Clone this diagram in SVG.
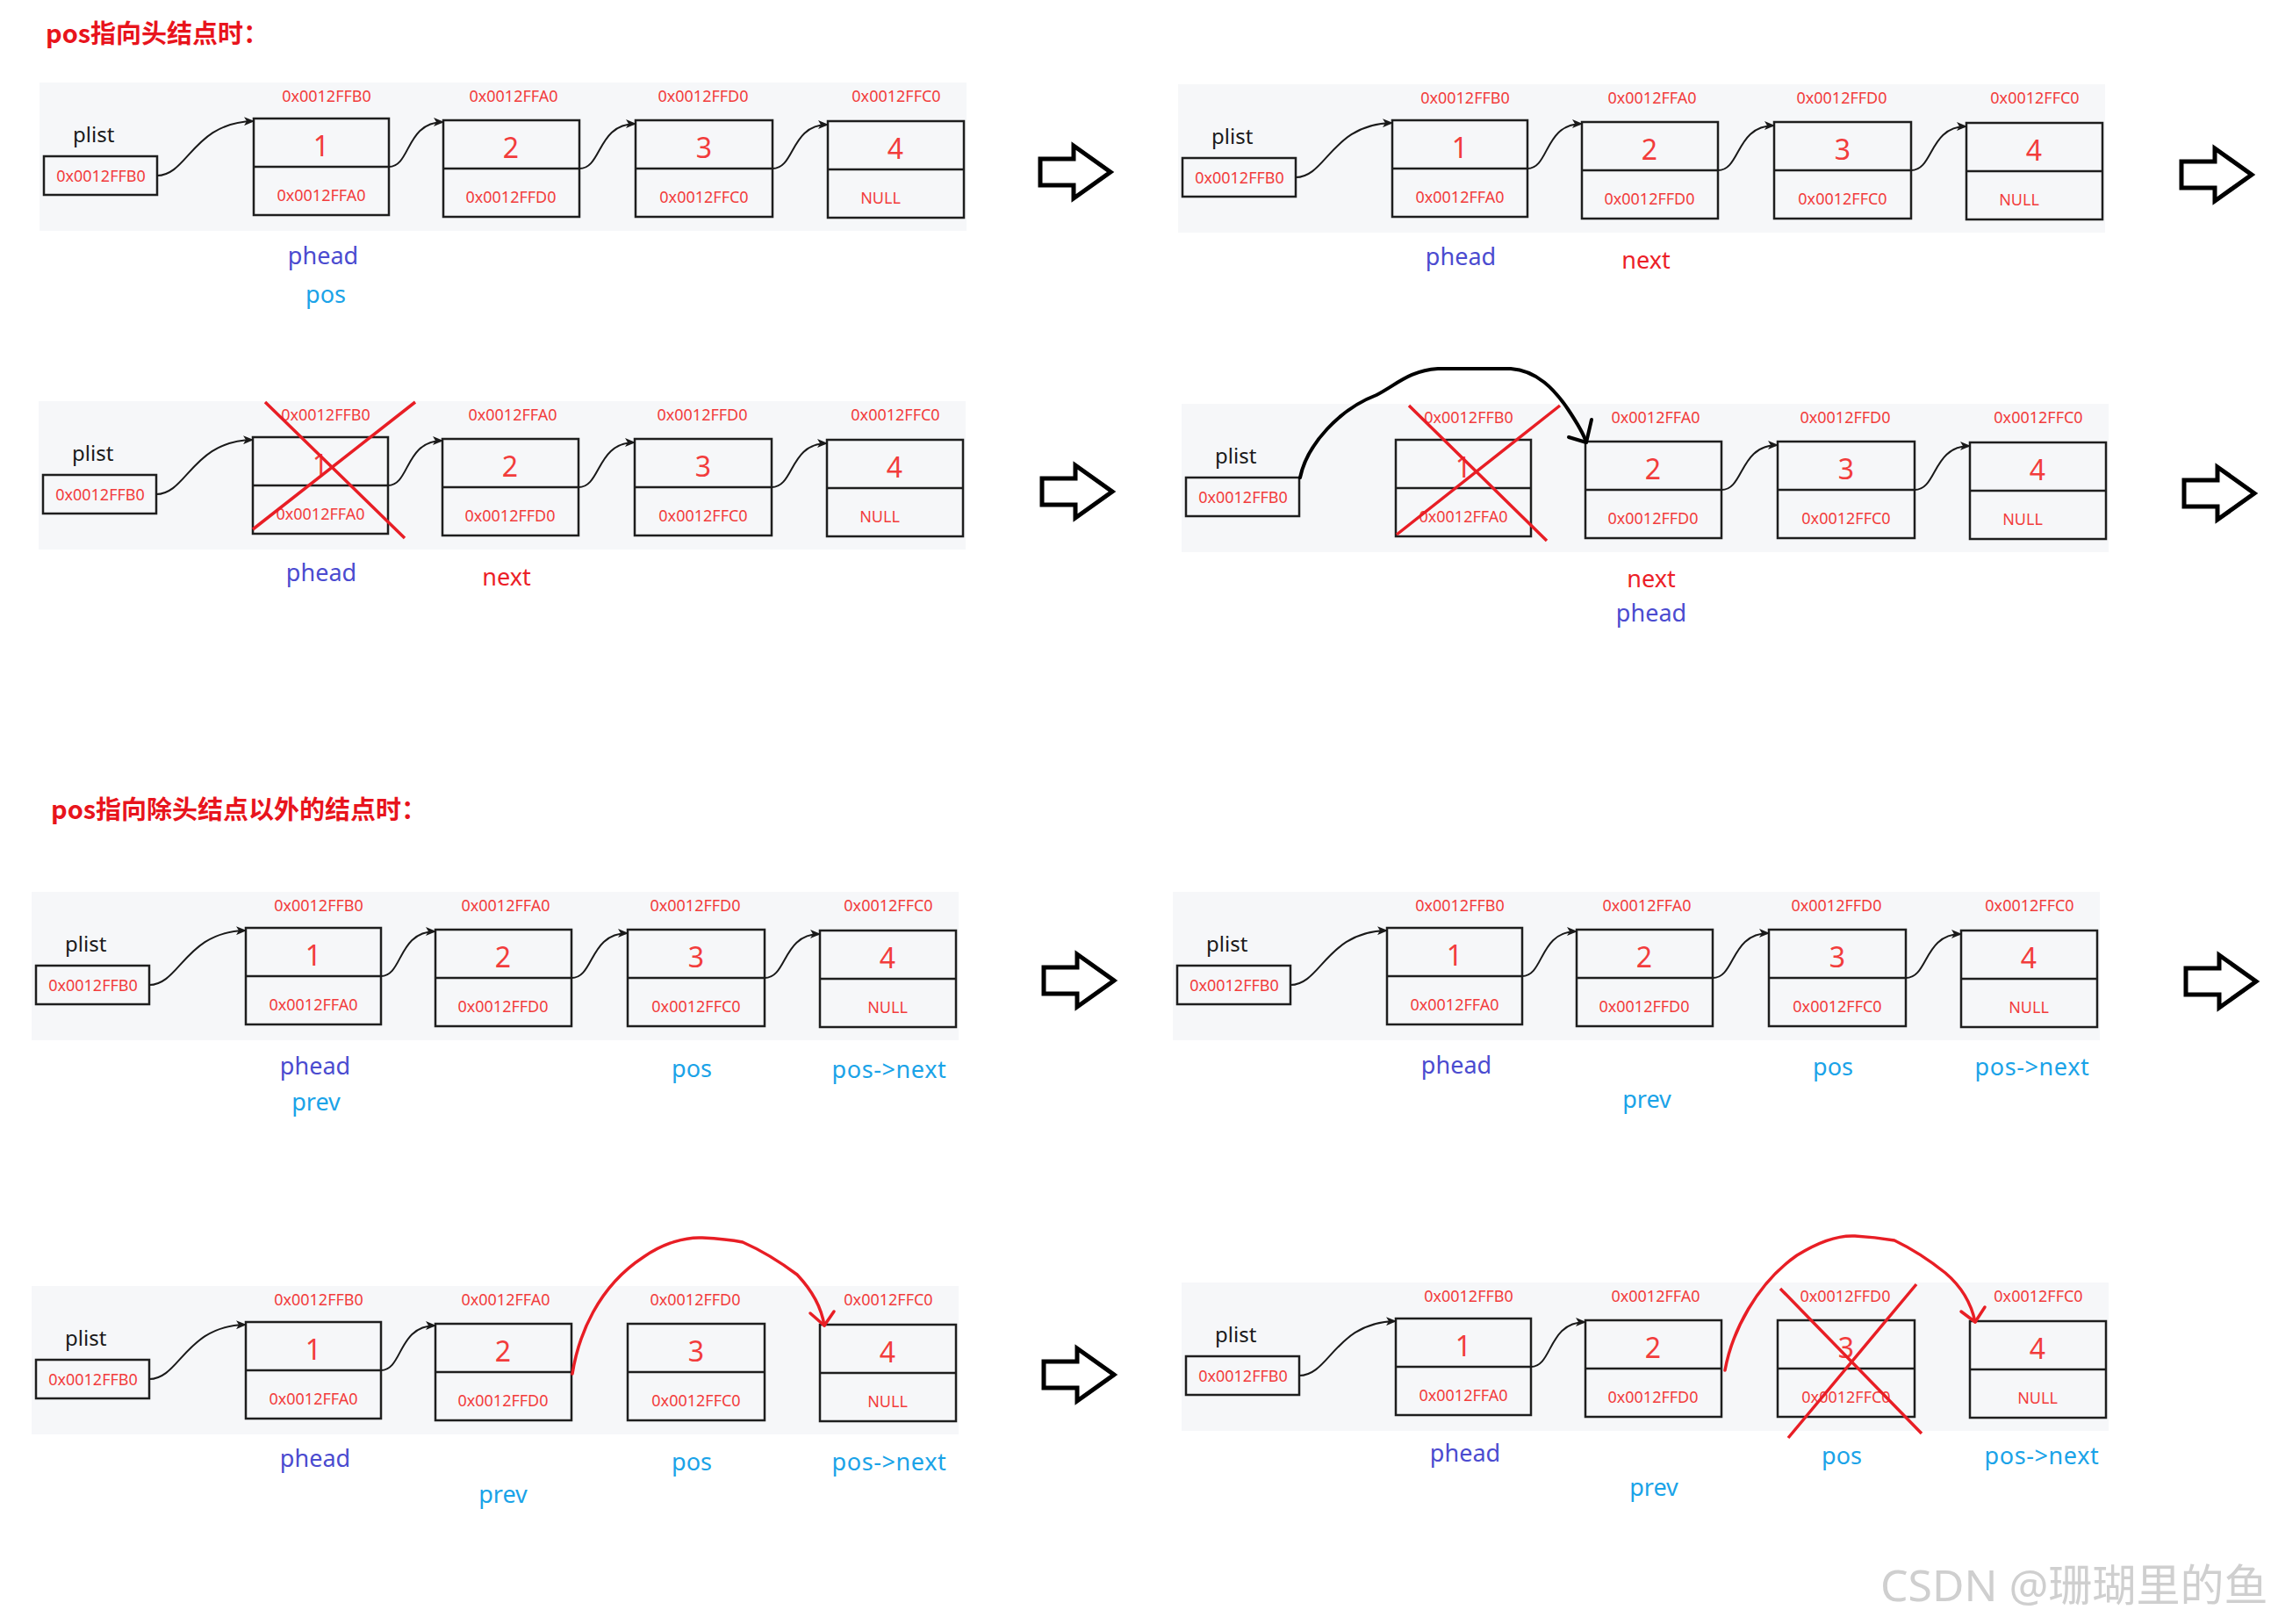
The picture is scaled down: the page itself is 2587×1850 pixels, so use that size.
<svg xmlns="http://www.w3.org/2000/svg" width="2587" height="1850" viewBox="0 0 2587 1850">
<style>
.bg{fill:#f6f7f9}
.box{fill:none;stroke:#1e1e1e;stroke-width:2.5}
.t{font-family:"Noto Sans","Noto Sans CJK SC",sans-serif}
.addr{font-size:18px;fill:#f23c3c;text-anchor:middle}
.num{font-size:32px;fill:#f23c3c;text-anchor:middle}
.plist{font-size:24px;fill:#1a1a1a}
.lbl{font-size:27px;text-anchor:middle}
.pn{letter-spacing:0.6px}
.ph{fill:#4b4bd0}
.sky{fill:#1aa3e8}
.rd{fill:#ec2027}
.conn{fill:none;stroke:#1a1a1a;stroke-width:2;marker-end:url(#ah)}
.cross{stroke:#e81e25;stroke-width:3.5;fill:none}
.hand{stroke:#000;stroke-width:4;fill:none;stroke-linecap:round;stroke-linejoin:round}
.rarc{stroke:#e81e25;stroke-width:3.5;fill:none;stroke-linecap:round;stroke-linejoin:round}
.big{fill:#fff;stroke:#000;stroke-width:5;stroke-linejoin:miter}
.title{font-family:"Noto Sans CJK SC","Noto Sans",sans-serif;font-size:29px;font-weight:700;fill:#e8141c}
.wm{font-family:"Noto Sans","Noto Sans CJK SC",sans-serif;font-size:50px;fill:#cfcfcf}
</style>
<defs>
<marker id="ah" markerWidth="12" markerHeight="10" refX="11" refY="5" orient="auto" markerUnits="userSpaceOnUse"><path d="M0,0 L12,5 L0,10 L3,5 z" fill="#1a1a1a"/></marker>
<path id="bigarrow" d="M0,-15 H38 V-30 L80,0 L38,30 V15 H0 Z"/>
</defs>
<rect width="2587" height="1850" fill="#fff"/>

<text class="title" x="52" y="49">pos指向头结点时：</text>
<text class="title" x="58" y="933">pos指向除头结点以外的结点时：</text>

<!-- Panel 1 -->
<g id="panel1" transform="translate(0,0)">
<rect class="bg" x="45" y="94" width="1056" height="169"/>
<g id="p1-plist"><text class="t plist" x="83" y="162">plist</text><rect class="box" x="50" y="178" width="129" height="44"/><text class="t addr" x="115" y="207">0x0012FFB0</text></g>
<g id="p1-n1"><text class="t addr" x="372" y="116">0x0012FFB0</text><rect class="box" x="289" y="135" width="154" height="110"/><line class="box" x1="289" y1="190" x2="443" y2="190"/><text class="t num" x="366" y="178">1</text><text class="t addr" x="366" y="229">0x0012FFA0</text></g>
<g id="p1-n2"><text class="t addr" x="585" y="116">0x0012FFA0</text><rect class="box" x="505" y="137" width="155" height="110"/><line class="box" x1="505" y1="192" x2="660" y2="192"/><text class="t num" x="582" y="180">2</text><text class="t addr" x="582" y="231">0x0012FFD0</text></g>
<g id="p1-n3"><text class="t addr" x="801" y="116">0x0012FFD0</text><rect class="box" x="724" y="137" width="156" height="110"/><line class="box" x1="724" y1="192" x2="880" y2="192"/><text class="t num" x="802" y="180">3</text><text class="t addr" x="802" y="231">0x0012FFC0</text></g>
<g id="p1-n4"><text class="t addr" x="1021" y="116">0x0012FFC0</text><rect class="box" x="943" y="138" width="155" height="110"/><line class="box" x1="943" y1="193" x2="1098" y2="193"/><text class="t num" x="1020" y="181">4</text><text class="t addr" x="1003" y="232">NULL</text></g>
<g id="p1-connectors"><path class="conn" d="M179,200 C214,200 220,139 289,138"/><path class="conn" d="M443,190 C468,190 462,139 505,139"/><path class="conn" d="M660,192 C686,192 680,141 724,141"/><path class="conn" d="M880,192 C906,192 900,142 943,142"/></g>
<text class="t lbl ph" x="368" y="301">phead</text>
<text class="t lbl sky" x="371" y="345">pos</text>
</g>

<!-- Panel 2 -->
<g id="panel2" transform="translate(1297,2)">
<rect class="bg" x="45" y="94" width="1056" height="169"/>
<g id="p2-plist"><text class="t plist" x="83" y="162">plist</text><rect class="box" x="50" y="178" width="129" height="44"/><text class="t addr" x="115" y="207">0x0012FFB0</text></g>
<g id="p2-n1"><text class="t addr" x="372" y="116">0x0012FFB0</text><rect class="box" x="289" y="135" width="154" height="110"/><line class="box" x1="289" y1="190" x2="443" y2="190"/><text class="t num" x="366" y="178">1</text><text class="t addr" x="366" y="229">0x0012FFA0</text></g>
<g id="p2-n2"><text class="t addr" x="585" y="116">0x0012FFA0</text><rect class="box" x="505" y="137" width="155" height="110"/><line class="box" x1="505" y1="192" x2="660" y2="192"/><text class="t num" x="582" y="180">2</text><text class="t addr" x="582" y="231">0x0012FFD0</text></g>
<g id="p2-n3"><text class="t addr" x="801" y="116">0x0012FFD0</text><rect class="box" x="724" y="137" width="156" height="110"/><line class="box" x1="724" y1="192" x2="880" y2="192"/><text class="t num" x="802" y="180">3</text><text class="t addr" x="802" y="231">0x0012FFC0</text></g>
<g id="p2-n4"><text class="t addr" x="1021" y="116">0x0012FFC0</text><rect class="box" x="943" y="138" width="155" height="110"/><line class="box" x1="943" y1="193" x2="1098" y2="193"/><text class="t num" x="1020" y="181">4</text><text class="t addr" x="1003" y="232">NULL</text></g>
<g id="p2-connectors"><path class="conn" d="M179,200 C214,200 220,139 289,138"/><path class="conn" d="M443,190 C468,190 462,139 505,139"/><path class="conn" d="M660,192 C686,192 680,141 724,141"/><path class="conn" d="M880,192 C906,192 900,142 943,142"/></g>
<text class="t lbl ph" x="367" y="300">phead</text>
<text class="t lbl rd" x="578" y="304">next</text>
</g>

<!-- Panel 3 -->
<g id="panel3" transform="translate(-1,363)">
<rect class="bg" x="45" y="94" width="1056" height="169"/>
<g id="p3-plist"><text class="t plist" x="83" y="162">plist</text><rect class="box" x="50" y="178" width="129" height="44"/><text class="t addr" x="115" y="207">0x0012FFB0</text></g>
<g id="p3-n1"><text class="t addr" x="372" y="116">0x0012FFB0</text><rect class="box" x="289" y="135" width="154" height="110"/><line class="box" x1="289" y1="190" x2="443" y2="190"/><text class="t num" x="366" y="178">1</text><text class="t addr" x="366" y="229">0x0012FFA0</text><path class="cross" d="M303,95 L462,250 M474,95 L289,240"/></g>
<g id="p3-n2"><text class="t addr" x="585" y="116">0x0012FFA0</text><rect class="box" x="505" y="137" width="155" height="110"/><line class="box" x1="505" y1="192" x2="660" y2="192"/><text class="t num" x="582" y="180">2</text><text class="t addr" x="582" y="231">0x0012FFD0</text></g>
<g id="p3-n3"><text class="t addr" x="801" y="116">0x0012FFD0</text><rect class="box" x="724" y="137" width="156" height="110"/><line class="box" x1="724" y1="192" x2="880" y2="192"/><text class="t num" x="802" y="180">3</text><text class="t addr" x="802" y="231">0x0012FFC0</text></g>
<g id="p3-n4"><text class="t addr" x="1021" y="116">0x0012FFC0</text><rect class="box" x="943" y="138" width="155" height="110"/><line class="box" x1="943" y1="193" x2="1098" y2="193"/><text class="t num" x="1020" y="181">4</text><text class="t addr" x="1003" y="232">NULL</text></g>
<g id="p3-connectors"><path class="conn" d="M179,200 C214,200 220,139 289,138"/><path class="conn" d="M443,190 C468,190 462,139 505,139"/><path class="conn" d="M660,192 C686,192 680,141 724,141"/><path class="conn" d="M880,192 C906,192 900,142 943,142"/></g>
<text class="t lbl ph" x="367" y="299">phead</text>
<text class="t lbl rd" x="578" y="304">next</text>
</g>

<!-- Panel 4 -->
<g id="panel4" transform="translate(1301,366)">
<rect class="bg" x="45" y="94" width="1056" height="169"/>
<g id="p4-plist"><text class="t plist" x="83" y="162">plist</text><rect class="box" x="50" y="178" width="129" height="44"/><text class="t addr" x="115" y="207">0x0012FFB0</text></g>
<g id="p4-n1"><text class="t addr" x="372" y="116">0x0012FFB0</text><rect class="box" x="289" y="135" width="154" height="110"/><line class="box" x1="289" y1="190" x2="443" y2="190"/><text class="t num" x="366" y="178">1</text><text class="t addr" x="366" y="229">0x0012FFA0</text><path class="cross" d="M304,96 L461,250 M476,96 L290,243"/></g>
<g id="p4-n2"><text class="t addr" x="585" y="116">0x0012FFA0</text><rect class="box" x="505" y="137" width="155" height="110"/><line class="box" x1="505" y1="192" x2="660" y2="192"/><text class="t num" x="582" y="180">2</text><text class="t addr" x="582" y="231">0x0012FFD0</text></g>
<g id="p4-n3"><text class="t addr" x="801" y="116">0x0012FFD0</text><rect class="box" x="724" y="137" width="156" height="110"/><line class="box" x1="724" y1="192" x2="880" y2="192"/><text class="t num" x="802" y="180">3</text><text class="t addr" x="802" y="231">0x0012FFC0</text></g>
<g id="p4-n4"><text class="t addr" x="1021" y="116">0x0012FFC0</text><rect class="box" x="943" y="138" width="155" height="110"/><line class="box" x1="943" y1="193" x2="1098" y2="193"/><text class="t num" x="1020" y="181">4</text><text class="t addr" x="1003" y="232">NULL</text></g>
<g id="p4-connectors">
<path class="hand" d="M180,178 C188,140 225,100 267,84 C290,72 305,56 337,54 L420,54 C450,56 470,78 485,100 C497,118 503,128 506,138"/>
<path class="hand" d="M486,132 L506,138 L512,112"/>
<path class="conn" d="M660,192 C686,192 680,141 724,141"/><path class="conn" d="M880,192 C906,192 900,142 943,142"/></g>
<text class="t lbl rd" x="580" y="303">next</text>
<text class="t lbl ph" x="580" y="342">phead</text>
</g>

<!-- Panel 5 -->
<g id="panel5" transform="translate(-9,922)">
<rect class="bg" x="45" y="94" width="1056" height="169"/>
<g id="p5-plist"><text class="t plist" x="83" y="162">plist</text><rect class="box" x="50" y="178" width="129" height="44"/><text class="t addr" x="115" y="207">0x0012FFB0</text></g>
<g id="p5-n1"><text class="t addr" x="372" y="116">0x0012FFB0</text><rect class="box" x="289" y="135" width="154" height="110"/><line class="box" x1="289" y1="190" x2="443" y2="190"/><text class="t num" x="366" y="178">1</text><text class="t addr" x="366" y="229">0x0012FFA0</text></g>
<g id="p5-n2"><text class="t addr" x="585" y="116">0x0012FFA0</text><rect class="box" x="505" y="137" width="155" height="110"/><line class="box" x1="505" y1="192" x2="660" y2="192"/><text class="t num" x="582" y="180">2</text><text class="t addr" x="582" y="231">0x0012FFD0</text></g>
<g id="p5-n3"><text class="t addr" x="801" y="116">0x0012FFD0</text><rect class="box" x="724" y="137" width="156" height="110"/><line class="box" x1="724" y1="192" x2="880" y2="192"/><text class="t num" x="802" y="180">3</text><text class="t addr" x="802" y="231">0x0012FFC0</text></g>
<g id="p5-n4"><text class="t addr" x="1021" y="116">0x0012FFC0</text><rect class="box" x="943" y="138" width="155" height="110"/><line class="box" x1="943" y1="193" x2="1098" y2="193"/><text class="t num" x="1020" y="181">4</text><text class="t addr" x="1020" y="232">NULL</text></g>
<g id="p5-connectors"><path class="conn" d="M179,200 C214,200 220,139 289,138"/><path class="conn" d="M443,190 C468,190 462,139 505,139"/><path class="conn" d="M660,192 C686,192 680,141 724,141"/><path class="conn" d="M880,192 C906,192 900,142 943,142"/></g>
<text class="t lbl ph" x="368" y="302">phead</text>
<text class="t lbl sky" x="369" y="343">prev</text>
<text class="t lbl sky" x="797" y="305">pos</text>
<text class="t lbl sky pn" x="1022" y="306">pos-&gt;next</text>
</g>

<!-- Panel 6 -->
<g id="panel6" transform="translate(1291,922)">
<rect class="bg" x="45" y="94" width="1056" height="169"/>
<g id="p6-plist"><text class="t plist" x="83" y="162">plist</text><rect class="box" x="50" y="178" width="129" height="44"/><text class="t addr" x="115" y="207">0x0012FFB0</text></g>
<g id="p6-n1"><text class="t addr" x="372" y="116">0x0012FFB0</text><rect class="box" x="289" y="135" width="154" height="110"/><line class="box" x1="289" y1="190" x2="443" y2="190"/><text class="t num" x="366" y="178">1</text><text class="t addr" x="366" y="229">0x0012FFA0</text></g>
<g id="p6-n2"><text class="t addr" x="585" y="116">0x0012FFA0</text><rect class="box" x="505" y="137" width="155" height="110"/><line class="box" x1="505" y1="192" x2="660" y2="192"/><text class="t num" x="582" y="180">2</text><text class="t addr" x="582" y="231">0x0012FFD0</text></g>
<g id="p6-n3"><text class="t addr" x="801" y="116">0x0012FFD0</text><rect class="box" x="724" y="137" width="156" height="110"/><line class="box" x1="724" y1="192" x2="880" y2="192"/><text class="t num" x="802" y="180">3</text><text class="t addr" x="802" y="231">0x0012FFC0</text></g>
<g id="p6-n4"><text class="t addr" x="1021" y="116">0x0012FFC0</text><rect class="box" x="943" y="138" width="155" height="110"/><line class="box" x1="943" y1="193" x2="1098" y2="193"/><text class="t num" x="1020" y="181">4</text><text class="t addr" x="1020" y="232">NULL</text></g>
<g id="p6-connectors"><path class="conn" d="M179,200 C214,200 220,139 289,138"/><path class="conn" d="M443,190 C468,190 462,139 505,139"/><path class="conn" d="M660,192 C686,192 680,141 724,141"/><path class="conn" d="M880,192 C906,192 900,142 943,142"/></g>
<text class="t lbl ph" x="368" y="301">phead</text>
<text class="t lbl sky" x="585" y="340">prev</text>
<text class="t lbl sky" x="797" y="303">pos</text>
<text class="t lbl sky pn" x="1024" y="303">pos-&gt;next</text>
</g>

<!-- Panel 7 -->
<g id="panel7" transform="translate(-9,1371)">
<rect class="bg" x="45" y="94" width="1056" height="169"/>
<g id="p7-plist"><text class="t plist" x="83" y="162">plist</text><rect class="box" x="50" y="178" width="129" height="44"/><text class="t addr" x="115" y="207">0x0012FFB0</text></g>
<g id="p7-n1"><text class="t addr" x="372" y="116">0x0012FFB0</text><rect class="box" x="289" y="135" width="154" height="110"/><line class="box" x1="289" y1="190" x2="443" y2="190"/><text class="t num" x="366" y="178">1</text><text class="t addr" x="366" y="229">0x0012FFA0</text></g>
<g id="p7-n2"><text class="t addr" x="585" y="116">0x0012FFA0</text><rect class="box" x="505" y="137" width="155" height="110"/><line class="box" x1="505" y1="192" x2="660" y2="192"/><text class="t num" x="582" y="180">2</text><text class="t addr" x="582" y="231">0x0012FFD0</text></g>
<g id="p7-n3"><text class="t addr" x="801" y="116">0x0012FFD0</text><rect class="box" x="724" y="137" width="156" height="110"/><line class="box" x1="724" y1="192" x2="880" y2="192"/><text class="t num" x="802" y="180">3</text><text class="t addr" x="802" y="231">0x0012FFC0</text></g>
<g id="p7-n4"><text class="t addr" x="1021" y="116">0x0012FFC0</text><rect class="box" x="943" y="138" width="155" height="110"/><line class="box" x1="943" y1="193" x2="1098" y2="193"/><text class="t num" x="1020" y="181">4</text><text class="t addr" x="1020" y="232">NULL</text></g>
<g id="p7-connectors"><path class="conn" d="M179,200 C214,200 220,139 289,138"/><path class="conn" d="M443,190 C468,190 462,139 505,139"/>
<path class="rarc" d="M661,194 C668,150 690,95 742,61 C765,45 790,38 809,39 C830,40 845,42 855,44 C880,55 905,72 917,81 C935,100 945,120 948,139"/>
<path class="rarc" d="M932,125 L948,139 L959,123"/></g>
<text class="t lbl ph" x="368" y="300">phead</text>
<text class="t lbl sky" x="582" y="341">prev</text>
<text class="t lbl sky" x="797" y="304">pos</text>
<text class="t lbl sky pn" x="1022" y="304">pos-&gt;next</text>
</g>

<!-- Panel 8 -->
<g id="panel8" transform="translate(1301,1367)">
<rect class="bg" x="45" y="94" width="1056" height="169"/>
<g id="p8-plist"><text class="t plist" x="83" y="162">plist</text><rect class="box" x="50" y="178" width="129" height="44"/><text class="t addr" x="115" y="207">0x0012FFB0</text></g>
<g id="p8-n1"><text class="t addr" x="372" y="116">0x0012FFB0</text><rect class="box" x="289" y="135" width="154" height="110"/><line class="box" x1="289" y1="190" x2="443" y2="190"/><text class="t num" x="366" y="178">1</text><text class="t addr" x="366" y="229">0x0012FFA0</text></g>
<g id="p8-n2"><text class="t addr" x="585" y="116">0x0012FFA0</text><rect class="box" x="505" y="137" width="155" height="110"/><line class="box" x1="505" y1="192" x2="660" y2="192"/><text class="t num" x="582" y="180">2</text><text class="t addr" x="582" y="231">0x0012FFD0</text></g>
<g id="p8-n3"><text class="t addr" x="801" y="116">0x0012FFD0</text><rect class="box" x="724" y="137" width="156" height="110"/><line class="box" x1="724" y1="192" x2="880" y2="192"/><text class="t num" x="802" y="180">3</text><text class="t addr" x="802" y="231">0x0012FFC0</text><path class="cross" d="M727,101 L888,266 M882,96 L736,271"/></g>
<g id="p8-n4"><text class="t addr" x="1021" y="116">0x0012FFC0</text><rect class="box" x="943" y="138" width="155" height="110"/><line class="box" x1="943" y1="193" x2="1098" y2="193"/><text class="t num" x="1020" y="181">4</text><text class="t addr" x="1020" y="232">NULL</text></g>
<g id="p8-connectors"><path class="conn" d="M179,200 C214,200 220,139 289,138"/><path class="conn" d="M443,190 C468,190 462,139 505,139"/>
<path class="rarc" d="M664,194 C672,150 700,95 746,63 C770,48 792,40 812,41 C830,42 845,44 857,46 C882,58 905,75 915,83 C935,100 945,120 949,139"/>
<path class="rarc" d="M933,127 L949,139 L960,122"/></g>
<text class="t lbl ph" x="368" y="298">phead</text>
<text class="t lbl sky" x="583" y="337">prev</text>
<text class="t lbl sky" x="797" y="301">pos</text>
<text class="t lbl sky pn" x="1025" y="301">pos-&gt;next</text>
</g>

<!-- Step arrows -->
<g id="step-arrows">
<use href="#bigarrow" class="big" x="1185" y="196"/>
<use href="#bigarrow" class="big" x="2485" y="199"/>
<use href="#bigarrow" class="big" x="1187" y="560"/>
<use href="#bigarrow" class="big" x="2488" y="562"/>
<use href="#bigarrow" class="big" x="1189" y="1117"/>
<use href="#bigarrow" class="big" x="2490" y="1118"/>
<use href="#bigarrow" class="big" x="1189" y="1566"/>
</g>

<text class="wm" x="2142" y="1824">CSDN @珊瑚里的鱼</text>
</svg>
